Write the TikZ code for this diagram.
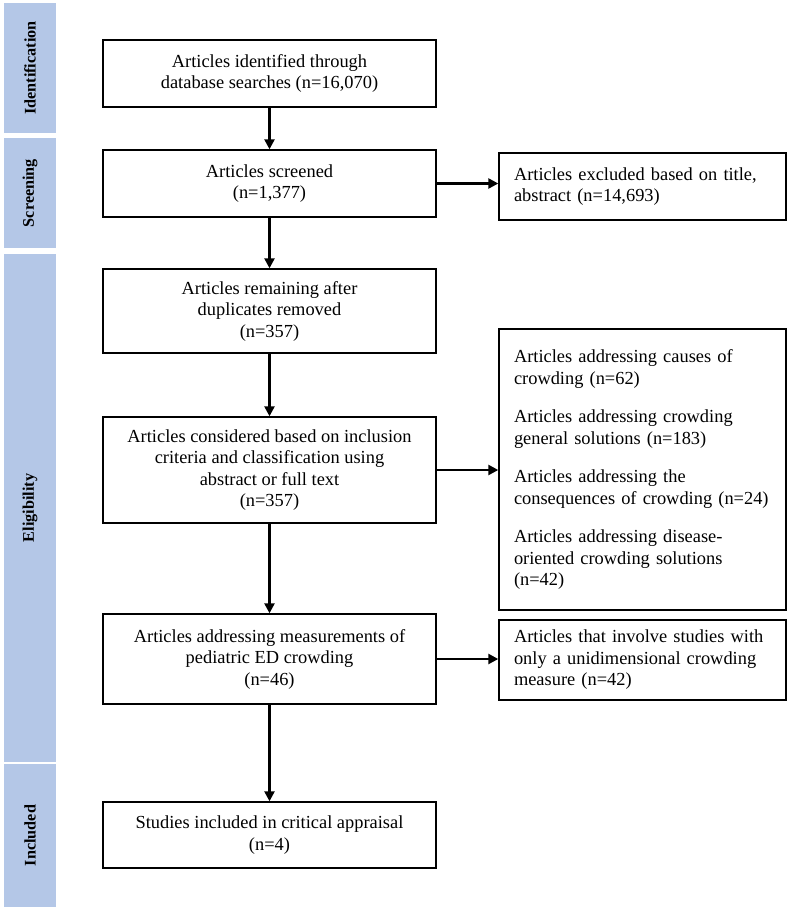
\documentclass[tikz,border=0pt]{standalone}
\usepackage{fontspec}
\setmainfont{Liberation Serif}
\usepackage{tikz}
\usetikzlibrary{arrows.meta,positioning}
\definecolor{phaseblue}{HTML}{B4C7E7}

\begin{document}
\begin{tikzpicture}[y=-1pt,x=1pt,
	box/.style={draw, line width=1.4pt, font=\fontsize{18.4}{21.5}\selectfont, align=center, inner sep=0pt, minimum width=333pt},
	sidebox/.style={draw, line width=1.4pt, font=\fontsize{18.4}{21.5}\selectfont, align=left, text width=257pt, inner xsep=15pt, inner ysep=0pt},
	phase/.style={fill=phaseblue, rotate=90, minimum height=52pt, inner sep=0pt, font=\fontsize{16.2}{19}\selectfont\bfseries},
	flow/.style={line width=2.4pt, -{Triangle[length=10pt,width=10pt]}}]
	\useasboundingbox (0,0) rectangle (790,910);

	\node[phase, minimum width=130pt] (phIdent) at (30,68) {Identification};
	\node[phase, minimum width=110pt] (phScreen) at (30,193) {Screening};
	\node[phase, minimum width=508pt] (phElig) at (30,508) {Eligibility};
	\node[phase, minimum width=143pt] (phIncl) at (30,835.5) {Included};

	\node[box, minimum height=67pt] (ident) at (269.5,73.5) {Articles identified through\\database searches (n=16,070)};
	\node[box, minimum height=67pt] (screened) at (269.5,183.5) {Articles screened\\(n=1,377)};
	\node[box, minimum height=84pt] (dedup) at (269.5,311) {Articles remaining after\\duplicates removed\\(n=357)};
	\node[box, minimum height=106pt] (considered) at (269.5,470) {Articles considered based on inclusion\\criteria and classification using\\abstract or full text\\(n=357)};
	\node[box, minimum height=90pt] (measured) at (269.5,659) {Articles addressing measurements of\\pediatric ED crowding\\(n=46)};
	\node[box, minimum height=66pt] (included) at (269.5,835) {Studies included in critical appraisal\\(n=4)};

	\node[sidebox, minimum height=67pt] (excluded) at (642.5,186.5) {Articles excluded based on title,\\abstract (n=14,693)};
	\node[sidebox, minimum height=281pt] (classified) at (642.5,469.5) {Articles addressing causes of\\crowding (n=62)\\[17pt]Articles addressing crowding\\general solutions (n=183)\\[17pt]Articles addressing the\\consequences of crowding (n=24)\\[17pt]Articles addressing disease-\\oriented crowding solutions\\(n=42)};
	\node[sidebox, minimum height=80pt] (unidim) at (642.5,660) {Articles that involve studies with\\only a unidimensional crowding\\measure (n=42)};

	\draw[flow] (ident.south) -- (screened.north);
	\draw[flow] (screened.south) -- (dedup.north);
	\draw[flow] (dedup.south) -- (considered.north);
	\draw[flow] (considered.south) -- (measured.north);
	\draw[flow] (measured.south) -- (included.north);

	\draw[flow] (screened.east) -- (screened.east -| excluded.west);
	\draw[flow] (considered.east) -- (considered.east -| classified.west);
	\draw[flow] (measured.east) -- (measured.east -| unidim.west);
\end{tikzpicture}
\end{document}
